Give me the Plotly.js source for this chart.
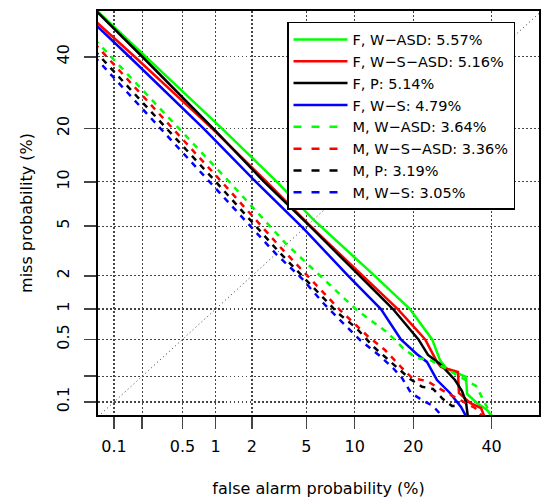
<!DOCTYPE html>
<html>
<head>
<meta charset="utf-8">
<script src="https://cdn.plot.ly/plotly-3.0.1.min.js"></script>
<style>html,body{margin:0;padding:0;background:#fff;}#chart{width:543px;height:499px;}</style>
</head>
<body>
<div id="chart"></div>
<script>
// ---- data (percent) ----
const tickValues = [0.1, 0.2, 0.5, 1, 2, 5, 10, 20, 40];
const tickLabels = ['0.1', '', '0.5', '1', '2', '5', '10', '20', '40'];

const seriesNames = ['F, W\u2212ASD: 5.57%', 'F, W\u2212S\u2212ASD: 5.16%', 'F, P: 5.14%', 'F, W\u2212S: 4.79%',
                     'M, W\u2212ASD: 3.64%', 'M, W\u2212S\u2212ASD: 3.36%', 'M, P: 3.19%', 'M, W\u2212S: 3.05%'];

const fWASD_fa   = [0.06, 0.217, 1.13, 3.1, 5.57, 12.9, 19.3, 24.2, 26.1, 27.8, 32.8, 33.1, 35.8, 38.7, 40.4];
const fWASD_miss = [55.8, 40, 20, 10, 5.57, 2, 1, 0.5, 0.30, 0.241, 0.196, 0.1245, 0.0975, 0.080, 0.0637];

const fWSASD_fa   = [0.06, 0.167, 0.93, 2.60, 5.16, 11.2, 16.9, 22.6, 25.35, 26.3, 30.65, 30.9, 33.9, 36.96, 38.1];
const fWSASD_miss = [51.9, 40, 20, 10, 5.16, 2, 1, 0.5, 0.288, 0.2535, 0.223, 0.128, 0.0973, 0.0846, 0.0637];

const fP_fa   = [0.06, 0.2004, 0.95, 2.49, 5.14, 10.7, 16.0, 21.1, 23.24, 26.08, 29.87, 31.72, 32.8, 33.34];
const fP_miss = [55.5, 40, 20, 10, 5.14, 2, 1, 0.5, 0.3426, 0.2735, 0.181, 0.135, 0.1, 0.0637];

const fWS_fa   = [0.06, 0.1467, 0.78, 2.15, 4.79, 9.17, 13.9, 17.5, 20.73, 23.0, 25.35, 28.57, 31.45, 33.07];
const fWS_miss = [50.8, 40, 20, 10, 4.79, 2, 1, 0.5, 0.351, 0.288, 0.181, 0.128, 0.087, 0.0637];

const mWASD_fa   = [0.06, 1.31, 3.64, 6.24, 10.26, 14.88, 18.3, 20.79, 23.7, 27.3, 31.72, 35.55, 38.67, 40.4];
const mWASD_miss = [45.75, 10, 3.64, 1.967, 0.979, 0.595, 0.387, 0.318, 0.3025, 0.247, 0.191, 0.1545, 0.087, 0.0637];

const mWSASD_fa   = [0.06, 1.128, 3.36, 5.56, 8.19, 11.91, 14.59, 17.71, 19.73, 23.0, 27.82, 31.72, 35.28, 37.53];
const mWSASD_miss = [44.4, 10, 3.36, 1.779, 0.979, 0.533, 0.387, 0.247, 0.191, 0.1763, 0.128, 0.1028, 0.0846, 0.0656];

const mP_fa   = [0.06, 1.006, 3.19, 5.43, 8.0, 10.26, 12.67, 14.88, 19.32, 21.88, 24.4, 26.8, 29.09, 31.19];
const mP_miss = [42.1, 10, 3.19, 1.63, 0.91, 0.648, 0.42, 0.3157, 0.186, 0.1516, 0.1426, 0.1086, 0.0895, 0.0895];

const mWS_fa   = [0.06, 0.889, 3.05, 4.65, 6.62, 8.57, 10.71, 13.75, 16.01, 17.71, 19.52, 21.88, 24.4, 26.8];
const mWS_miss = [40.1, 10, 3.05, 1.905, 1.092, 0.727, 0.493, 0.334, 0.247, 0.191, 0.128, 0.1057, 0.0895, 0.0656];

const diagonal = [0.01, 60];

// ---- normal-deviate (DET) scale ----
function qnorm(p) {
  const a=[-3.969683028665376e+01,2.209460984245205e+02,-2.759285104469687e+02,1.383577518672690e+02,-3.066479806614716e+01,2.506628277459239e+00];
  const b=[-5.447609879822406e+01,1.615858368580409e+02,-1.556989798598866e+02,6.680131188771972e+01,-1.328068155288572e+01];
  const c=[-7.784894002430293e-03,-3.223964580411365e-01,-2.400758277161838e+00,-2.549671625183318e+00,4.374664141464968e+00,2.938163982698783e+00];
  const d=[7.784695709041462e-03,3.224671290700398e-01,2.445134137142996e+00,3.754408661907416e+00];
  const pl=0.02425, ph=1-pl; let q, r;
  if (p < pl) { q=Math.sqrt(-2*Math.log(p)); return (((((c[0]*q+c[1])*q+c[2])*q+c[3])*q+c[4])*q+c[5])/((((d[0]*q+d[1])*q+d[2])*q+d[3])*q+1); }
  if (p <= ph) { q=p-0.5; r=q*q; return (((((a[0]*r+a[1])*r+a[2])*r+a[3])*r+a[4])*r+a[5])*q/(((((b[0]*r+b[1])*r+b[2])*r+b[3])*r+b[4])*r+1); }
  q=Math.sqrt(-2*Math.log(1-p)); return -(((((c[0]*q+c[1])*q+c[2])*q+c[3])*q+c[4])*q+c[5])/((((d[0]*q+d[1])*q+d[2])*q+d[3])*q+1);
}
const probit = arr => arr.map(v => qnorm(v / 100));

const curves = [
  [fWASD_fa, fWASD_miss], [fWSASD_fa, fWSASD_miss], [fP_fa, fP_miss], [fWS_fa, fWS_miss],
  [mWASD_fa, mWASD_miss], [mWSASD_fa, mWSASD_miss], [mP_fa, mP_miss], [mWS_fa, mWS_miss]
];
const colors = ['#00ff00', '#ff0000', '#000000', '#0000ff', '#00ff00', '#ff0000', '#000000', '#0000ff'];

const traces = [{
  x: probit(diagonal), y: probit(diagonal), mode: 'lines', showlegend: false, hoverinfo: 'skip',
  line: {color: '#333', width: 1, dash: '1px,3px'}
}];
curves.forEach((c, i) => {
  traces.push({
    x: probit(c[0]), y: probit(c[1]), mode: 'lines', showlegend: false,
    text: c[0].map((v, k) => v + '% / ' + c[1][k] + '%'), hoverinfo: 'text',
    line: {color: colors[i], width: 2.5, dash: i < 4 ? 'solid' : '6px,6px'}
  });
});
curves.forEach((c, i) => {
  traces.push({
    x: [null], y: [null], mode: 'lines', name: seriesNames[i], showlegend: true,
    line: {color: colors[i], width: 2.5, dash: i < 4 ? 'solid' : '8px,10px'}
  });
});

const tv = probit(tickValues);
const axisCommon = {
  tickmode: 'array', tickvals: tv, ticktext: tickLabels,
  showgrid: true, gridcolor: '#444', gridwidth: 1.2, griddash: '1.5px,2.5px',
  zeroline: false, showline: true, linecolor: '#000', linewidth: 1.8, mirror: true,
  ticks: 'outside', ticklen: 12, tickwidth: 1.5, tickcolor: '#444',
  tickfont: {family: 'DejaVu Sans', size: 16, color: '#000'}, automargin: false
};

const layout = {
  width: 543, height: 499,
  margin: {l: 98, r: 4, t: 11, b: 84},
  paper_bgcolor: '#fff', plot_bgcolor: '#fff',
  font: {family: 'DejaVu Sans', size: 16, color: '#000'},
  xaxis: Object.assign({}, axisCommon, {
    range: [-3.2104, 0.1029], ticklabelstandoff: 4,
    title: {text: 'false alarm probability (%)', font: {family: 'DejaVu Sans', size: 16}, standoff: 28}
  }),
  yaxis: Object.assign({}, axisCommon, {
    range: [-3.197, 0.1226], tickangle: -90, ticklabelstandoff: 9,
    title: {text: 'miss probability (%)', font: {family: 'DejaVu Sans', size: 16}, standoff: 17}
  }),
  legend: {
    x: 0.4286, y: 0.9728, xanchor: 'left', yanchor: 'top',
    bgcolor: '#fff', bordercolor: '#000', borderwidth: 1.5,
    font: {family: 'DejaVu Sans', size: 14.5, color: '#000'}, itemwidth: 54, tracegroupgap: 0
  },
  showlegend: true
};

Plotly.newPlot('chart', traces, layout, {displayModeBar: false, staticPlot: true});
</script>
</body>
</html>
